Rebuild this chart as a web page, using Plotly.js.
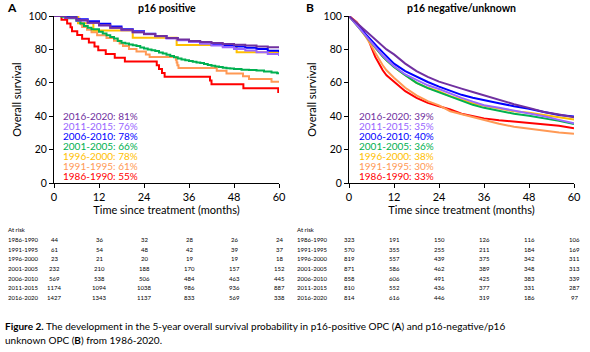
<!DOCTYPE html>
<html><head><meta charset="utf-8">
<script src="https://cdn.plot.ly/plotly-3.0.1.min.js"></script>
<style>html,body{margin:0;padding:0;background:#fff}#chart{width:590px;height:352px}</style>
</head><body><div id="chart"></div>
<script>
// ---------- categories ----------
const periods = ['1986-1990','1991-1995','1996-2000','2001-2005','2006-2010','2011-2015','2016-2020'];
const monthTicks = [0, 12, 24, 36, 48, 60];
const pctTicks = [0, 20, 40, 60, 80, 100];
const fiveYrA = [55, 61, 78, 66, 78, 76, 81];
const fiveYrB = [33, 30, 38, 36, 40, 35, 39];

// ---------- Panel A: p16 positive (Kaplan-Meier steps) ----------
const tA_1986 = [0, 2, 3.5, 4.4, 4.8, 6.2, 7.5, 9.3, 10.8, 11.8, 13.8, 16.2, 18.9, 27.4, 28, 28.8, 29.5, 41.6, 42, 50.5, 59.8, 60];
const sA_1986 = [100, 97.7, 95.5, 93.2, 90.9, 88.6, 86.4, 84.1, 81.8, 79.5, 77.3, 75.0, 72.7, 70.5, 68.2, 65.9, 63.6, 61.4, 59.1, 56.8, 54.5, 54.5];
const tA_1991 = [0, 6.5, 6.9, 7.2, 7.5, 8.8, 10, 11.5, 14, 16, 17.5, 18.4, 20, 22, 24.5, 25.5, 32.5, 32.7, 32.9, 33.2, 43.4, 46, 50.4, 52, 58, 60];
const sA_1991 = [100, 98.4, 96.7, 95.1, 93.4, 91.8, 90.2, 88.5, 86.9, 85.2, 83.6, 82.0, 80.3, 78.7, 77.0, 75.4, 73.8, 72.1, 70.5, 68.9, 67.2, 65.6, 63.9, 62.3, 60.7, 60.7];
const tA_1996 = [0, 6.4, 10.5, 21, 32.7, 48.7, 60];
const sA_1996 = [100, 95.7, 91.3, 87.0, 82.6, 78.3, 78.3];
const tA_2001 = [0, 2, 4, 6, 7, 8, 9, 10, 12, 13, 14, 15, 16, 17, 18, 19, 20, 21, 22, 23, 24, 25, 26, 27, 28, 29, 30, 31, 32, 33, 34, 35, 36, 37, 38, 39, 40, 41, 42, 43, 44, 45, 46, 47, 48, 50, 52, 54, 56, 58, 59.5, 60];
const sA_2001 = [100, 99.6, 98.7, 97, 95.5, 94, 93, 92, 90.5, 89.5, 88.5, 87.5, 86.5, 85, 84, 83.5, 83, 82.5, 82, 81.2, 80.5, 80, 79.5, 79, 78.2, 77.6, 76.8, 76, 75.3, 74.6, 74, 73.5, 73, 72.6, 72.2, 71.8, 71.3, 70.7, 70.2, 69.8, 69.4, 69, 68.7, 68.5, 68.2, 67.8, 67.6, 67.4, 66.8, 66.2, 65.7, 65.7];
const tA_2006 = [0, 3, 6, 9, 12, 15, 18, 21, 24, 27, 30, 33, 36, 39, 42, 45, 48, 51, 54, 57, 60];
const sA_2006 = [100, 99.2, 98.1, 96.8, 95.3, 93.7, 92.1, 90.8, 89.3, 88, 86.8, 85.6, 84.5, 83.8, 83, 82.3, 81.8, 81, 80.2, 79.2, 78.3];
const tA_2011 = [0, 3, 6, 9, 12, 15, 18, 21, 24, 27, 30, 33, 36, 39, 42, 45, 48, 51, 54, 57, 60];
const sA_2011 = [100, 98.8, 97.3, 95.8, 94.3, 92.8, 91.4, 90.2, 89, 87.8, 86.6, 85.5, 84.4, 83.4, 82.3, 81.3, 80.3, 79.3, 78.3, 77.2, 76];
const tA_2016 = [0, 3, 6, 9, 12, 15, 18, 21, 24, 27, 30, 33, 36, 39, 42, 45, 48, 51, 54, 57, 60];
const sA_2016 = [100, 98.9, 97.4, 95.9, 94.4, 93, 91.7, 90.3, 89.2, 88, 86.9, 85.9, 85.1, 84.4, 83.8, 83.3, 82.8, 82.3, 81.8, 81.3, 81];

// ---------- Panel B: p16 negative/unknown ----------
const tB = [0, 1, 2, 3, 4, 5, 6, 7, 8, 9, 10, 12, 15, 18, 21, 24, 27, 30, 33, 36, 40, 44, 48, 52, 56, 60];
const sB_1986 = [100, 98.5, 96.5, 93.5, 90.5, 87, 81, 75.5, 71.5, 67.5, 64.5, 60.5, 55, 51, 48, 46, 44, 41.5, 40, 38.7, 37.6, 36.8, 36.2, 35.3, 34.3, 32.8];
const sB_1991 = [100, 98.2, 96, 93, 89.5, 86, 82, 78, 74, 70.5, 67.5, 63, 57, 52.5, 49, 46.5, 43, 41.3, 39.3, 37.8, 35.5, 33.7, 32.5, 31.4, 30.3, 29.5];
const sB_1996 = [100, 97.5, 95, 92, 89, 86.2, 83.5, 80.8, 78, 75.7, 73.5, 69.5, 64.5, 60, 57, 54.8, 52, 49.8, 47.8, 46.2, 44.5, 43, 42, 40.8, 39.5, 38];
const sB_2001 = [100, 97.5, 95, 92.2, 89.5, 86.8, 84, 81, 78, 75.7, 73.5, 69.5, 64.5, 60, 56.8, 54.3, 51.7, 49, 46.8, 45, 43.2, 41.5, 40.3, 38.8, 37.2, 35.3];
const sB_2006 = [100, 97.5, 95, 92.5, 90, 87.7, 85.5, 83, 80.5, 78.2, 76, 71.5, 67, 63.5, 60.5, 57.7, 55.3, 52.8, 51, 49.5, 47.8, 46, 44.5, 42.5, 40.7, 39.8];
const sB_2011 = [100, 97.5, 95, 92.2, 89.5, 86.8, 84, 81.2, 78.5, 76.2, 74, 70, 65, 61.5, 58.5, 56.3, 53.5, 51, 48.7, 46.6, 45, 43.4, 42, 40, 37.8, 35.8];
const sB_2016 = [100, 98, 96, 93.8, 91.5, 89.8, 88, 86, 84, 82, 80, 77, 71.5, 67, 63.5, 60.7, 58.8, 56.5, 54.5, 52.5, 50.2, 47.2, 45, 42.5, 41, 39.3];

// ---------- At-risk tables ----------
const riskA = [
  [44, 36, 32, 28, 26, 24],
  [61, 54, 48, 42, 39, 37],
  [23, 21, 20, 19, 19, 18],
  [232, 210, 188, 170, 157, 152],
  [569, 538, 506, 484, 463, 445],
  [1174, 1094, 1038, 986, 936, 887],
  [1427, 1343, 1137, 833, 569, 338]
];
const riskB = [
  [323, 191, 150, 126, 116, 106],
  [570, 355, 255, 211, 184, 169],
  [819, 557, 439, 375, 342, 311],
  [871, 586, 462, 389, 348, 313],
  [858, 606, 491, 425, 383, 339],
  [810, 552, 436, 377, 331, 287],
  [814, 616, 446, 319, 186, 97]
];

// ---------- styles ----------
const colors = ['#FF0000', '#FF9955', '#FFC000', '#00B050', '#0000FF', '#9966FF', '#7030A0'];
const W = 590, H = 352;
const FONT = 'Lato, "DejaVu Sans", sans-serif';
const px = x => x / W;
const py = y => 1 - y / H;

const seriesA = [[tA_1986, sA_1986], [tA_1991, sA_1991], [tA_1996, sA_1996], [tA_2001, sA_2001], [tA_2006, sA_2006], [tA_2011, sA_2011], [tA_2016, sA_2016]];
const seriesB = [sB_1986, sB_1991, sB_1996, sB_2001, sB_2006, sB_2011, sB_2016];

const traces = [];
seriesA.forEach((s, i) => traces.push({
  x: s[0], y: s[1], xaxis: 'x', yaxis: 'y', mode: 'lines', name: periods[i],
  line: {color: colors[i], width: 2, shape: 'hv'}, cliponaxis: false, showlegend: false, hoverinfo: 'skip'
}));
seriesB.forEach((s, i) => traces.push({
  x: tB, y: s, xaxis: 'x2', yaxis: 'y2', mode: 'lines', name: periods[i],
  line: {color: colors[i], width: 2}, cliponaxis: false, showlegend: false, hoverinfo: 'skip'
}));

const annotations = [];
// panel letters and titles
[['A', 12], ['B', 310]].forEach(a => annotations.push({
  text: '<b>' + a[0] + '</b>', xref: 'paper', yref: 'paper', x: px(a[1]), y: py(8),
  xanchor: 'center', yanchor: 'middle', showarrow: false, font: {family: FONT, size: 12, color: '#000'}
}));
[['p16 positive', 166.5], ['p16 negative/unknown', 461.5]].forEach(a => annotations.push({
  text: '<b>' + a[0] + '</b>', xref: 'paper', yref: 'paper', x: px(a[1]), y: py(8),
  xanchor: 'center', yanchor: 'middle', showarrow: false, font: {family: FONT, size: 10.5, color: '#000'}
}));
// in-plot labels (5-year OS)
for (let k = 0; k < 7; k++) {
  const i = 6 - k;
  const yy = 115.7 + 9.9 * k;
  annotations.push({text: periods[i] + ': ' + fiveYrA[i] + '%', xref: 'paper', yref: 'paper', x: px(62), y: py(yy),
    xanchor: 'left', yanchor: 'middle', height: 9, borderpad: 0, showarrow: false, font: {family: FONT, size: 10, color: colors[i]}});
  annotations.push({text: periods[i] + ': ' + fiveYrB[i] + '%', xref: 'paper', yref: 'paper', x: px(358), y: py(yy),
    xanchor: 'left', yanchor: 'middle', height: 9, borderpad: 0, showarrow: false, font: {family: FONT, size: 10, color: colors[i]}});
}
// at-risk tables
const rowY0 = 239.3, rowDy = 9.7;
[[riskA, 'x', 6], [riskB, 'x2', 295]].forEach(tbl => {
  annotations.push({text: 'At risk', xref: 'paper', yref: 'paper', x: px(tbl[2]), y: py(229.5),
    xanchor: 'left', yanchor: 'middle', showarrow: false, font: {family: FONT, size: 6, color: '#000'}});
  tbl[0].forEach((row, r) => {
    const yy = rowY0 + rowDy * r;
    annotations.push({text: periods[r], xref: 'paper', yref: 'paper', x: px(tbl[2]), y: py(yy),
      xanchor: 'left', yanchor: 'middle', showarrow: false, font: {family: FONT, size: 6, color: '#000'}});
    row.forEach((v, c) => annotations.push({text: String(v), xref: tbl[1], yref: 'paper', x: monthTicks[c], y: py(yy),
      xanchor: 'center', yanchor: 'middle', showarrow: false, font: {family: FONT, size: 6, color: '#000'}}));
  });
});
// caption
annotations.push({text: '<b>Figure 2.</b> The development in the 5-year overall survival probability in p16-positive OPC (<b>A</b>) and p16-negative/p16',
  xref: 'paper', yref: 'paper', x: px(3), y: py(326), xanchor: 'left', yanchor: 'middle', showarrow: false,
  font: {family: FONT, size: 10, color: '#000'}});
annotations.push({text: 'unknown OPC (<b>B</b>) from 1986-2020.',
  xref: 'paper', yref: 'paper', x: px(3), y: py(340), xanchor: 'left', yanchor: 'middle', showarrow: false,
  font: {family: FONT, size: 10, color: '#000'}});

const xaxisBase = {
  range: [0, 60], tickvals: monthTicks, ticks: 'outside', ticklen: 4, tickcolor: '#000', tickwidth: 1,
  showline: true, linecolor: '#000', linewidth: 1, showgrid: false, zeroline: false,
  tickfont: {family: FONT, size: 11, color: '#000'}, fixedrange: true,
  title: {text: 'Time since treatment (months)', font: {family: FONT, size: 11, color: '#000'}, standoff: 3}
};
const yaxisBase = {
  range: [0, 100], tickvals: pctTicks, ticksuffix: '%', ticks: 'outside', ticklen: 4, tickcolor: '#000', tickwidth: 1,
  showline: true, linecolor: '#000', linewidth: 1, showgrid: false, zeroline: false,
  tickfont: {family: FONT, size: 10.5, color: '#000'}, fixedrange: true,
  domain: [py(183), py(16)],
  title: {text: 'Overall survival', font: {family: FONT, size: 11, color: '#000'}, standoff: 4}
};

const layout = {
  width: W, height: H, margin: {l: 0, r: 0, t: 0, b: 0}, paper_bgcolor: '#fff', plot_bgcolor: '#fff',
  showlegend: false,
  xaxis: Object.assign({}, xaxisBase, {domain: [px(54), px(279)], anchor: 'y'}),
  yaxis: Object.assign({}, yaxisBase, {anchor: 'x'}),
  xaxis2: Object.assign({}, xaxisBase, {domain: [px(349), px(574)], anchor: 'y2'}),
  yaxis2: Object.assign({}, yaxisBase, {anchor: 'x2'}),
  annotations: annotations
};

Plotly.newPlot('chart', traces, layout, {staticPlot: true, displayModeBar: false});
</script></body></html>
